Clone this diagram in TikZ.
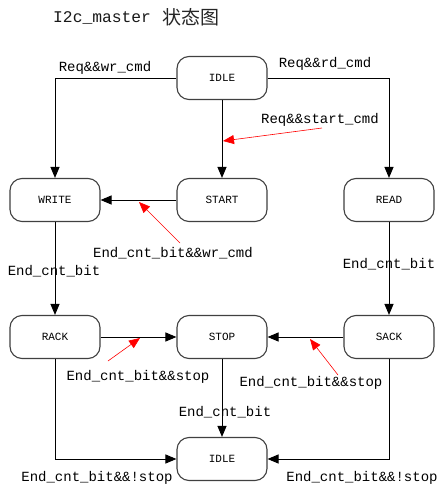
\documentclass[tikz,border=0pt]{standalone}
\usepackage{fontspec}
\setmonofont{Liberation Mono}
\newfontfamily\cjk{Noto Sans CJK SC}
\usetikzlibrary{arrows.meta}
\begin{document}
\begin{tikzpicture}[x=1pt,y=-1pt,
  st/.style={draw=black!75,line width=1.1pt,rounded corners=12pt,minimum width=90pt,minimum height=43pt,inner sep=0pt,font=\ttfamily\fontsize{11}{13}\selectfont},
  ar/.style={draw=black,line width=1pt,-{Triangle[length=11pt,width=9pt]}},
  rar/.style={draw=red,line width=0.6pt,-{Triangle[length=11pt,width=9pt]}},
  lbl/.style={inner sep=0pt,font=\ttfamily\fontsize{14}{16}\selectfont}]
\useasboundingbox[fill=white] (0,0) rectangle (446,495);
% title
\node[anchor=west,inner sep=0pt,font=\ttfamily\fontsize{16.3}{18}\selectfont,text=black!90] (title) at (53,18) {I2c\_master};
\node[anchor=west,inner sep=0pt,font=\cjk\fontsize{19}{21}\selectfont,text=black!85] (titlecn) at (162,17) {状态图};
% states
\node[st] (idle) at (222,78) {IDLE};
\node[st] (write) at (55,200) {WRITE};
\node[st] (start) at (222,200) {START};
\node[st] (read) at (389,200) {READ};
\node[st] (rack) at (55,337) {RACK};
\node[st] (stop) at (222,337) {STOP};
\node[st] (sack) at (389,337) {SACK};
\node[st] (idleb) at (222,459) {IDLE};
% transitions
\draw[ar] (idle.west) -| (write.north);
\draw[ar] (idle.east) -| (read.north);
\draw[ar] (idle) -- (start);
\draw[ar] (start) -- (write);
\draw[ar] (write) -- (rack);
\draw[ar] (read) -- (sack);
\draw[ar] (rack) -- (stop);
\draw[ar] (sack) -- (stop);
\draw[ar] (stop) -- (idleb);
\draw[ar] (rack.south) |- (idleb.west);
\draw[ar] (sack.south) |- (idleb.east);
% labels
\node[lbl] (l1) at (105,68) {Req\&\&wr\_cmd};
\node[lbl] (l2) at (325,64) {Req\&\&rd\_cmd};
\node[lbl] (l3) at (320,120) {Req\&\&start\_cmd};
\node[lbl] (l4) at (173,253) {End\_cnt\_bit\&\&wr\_cmd};
\node[lbl] (l5) at (54,271) {End\_cnt\_bit};
\node[lbl] (l6) at (389,264) {End\_cnt\_bit};
\node[lbl] (l7) at (138,377) {End\_cnt\_bit\&\&stop};
\node[lbl] (l8) at (311,383) {End\_cnt\_bit\&\&stop};
\node[lbl] (l9) at (225,412) {End\_cnt\_bit};
\node[lbl] (l10) at (97,478) {End\_cnt\_bit\&\&!stop};
\node[lbl] (l11) at (362,478) {End\_cnt\_bit\&\&!stop};
% red pointers
\coordinate (p3) at (223,141);
\coordinate (p4) at (139,202);
\coordinate (p7) at (140,338);
\coordinate (p8) at (310,339);
\draw[rar] (322,128) -- (p3);
\draw[rar] (180,243) -- (p4);
\draw[rar] (108,361) -- (p7);
\draw[rar] (338,375) -- (p8);
\end{tikzpicture}
\end{document}
